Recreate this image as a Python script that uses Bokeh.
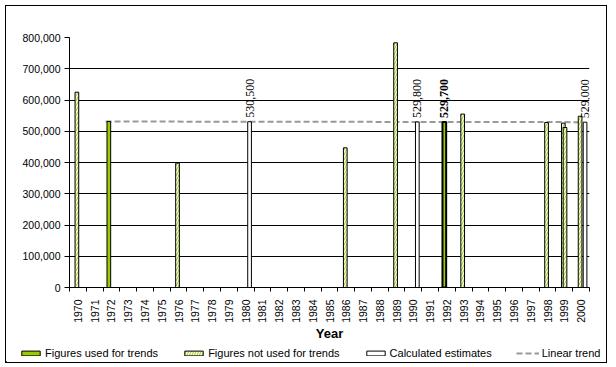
import math
import numpy as np
from bokeh.plotting import figure
from bokeh.layouts import column
from bokeh.models import (Range1d, FixedTicker, NumeralTickFormatter, Legend, LegendItem,
                          LabelSet, ColumnDataSource, Label)
from bokeh.embed import file_html
from bokeh.resources import INLINE

# ---- data ----
years = list(range(1970, 2001))
used_years = [1972, 1992]
used_values = [531100, 529700]
notused_years = [1970, 1976, 1986, 1989, 1993, 1998, 1999, 2000]
notused_values = [625000, 398000, 447000, 783000, 555000, 528000, 526000, 548000]
notused2_years = [1999]
notused2_values = [512000]
calc_years = [1980, 1990, 2000]
calc_values = [530500, 529800, 529000]
trend_span = [1971.65, 2000.0]
y_ticks = [0, 100000, 200000, 300000, 400000, 500000, 600000, 700000, 800000]
legend_labels = ["Figures used for trends", "Figures not used for trends",
                 "Calculated estimates", "Linear trend"]

FONT = "Liberation Sans"
GREEN = "#99cc00"
TREND = dict(line_color="#999999", line_width=2, line_dash="6 3")
HATCH = dict(hatch_pattern="/", hatch_color=GREEN, hatch_scale=5, hatch_weight=1)

# offsets of each series within its category (category units)
OFF_USED, OFF_NU, OFF_NU2, OFF_CALC = -0.155, -0.06, 0.04, 0.235
BW = 0.22

p = figure(width=600, height=337, output_backend="svg", toolbar_location=None,
           x_range=Range1d(1969.5, 2000.5), y_range=Range1d(0, 800000),
           min_border_left=63, min_border_right=17, min_border_top=31, min_border_bottom=54)
p.frame_align = False
p.outline_line_color = None
p.background_fill_color = "white"
p.border_fill_color = "white"

# trend line (linear fit through the figures used for trends)
a, b = np.polyfit(used_years, used_values, 1)
tx = trend_span
ty = [a * x + b for x in tx]
p.line(tx, ty, **TREND)

src_used = ColumnDataSource(dict(x=[y + OFF_USED for y in used_years], top=used_values,
                                 lw=[1, 2]))
p.vbar(x="x", top="top", width=BW, source=src_used, fill_color=GREEN,
       line_color="black", line_width="lw")
p.vbar(x=[y + OFF_NU for y in notused_years], top=notused_values, width=BW,
       fill_color="white", line_color="black", line_width=1, **HATCH)
p.vbar(x=[y + OFF_NU2 for y in notused2_years], top=notused2_values, width=BW,
       fill_color="white", line_color="black", line_width=1, **HATCH)
p.vbar(x=[y + OFF_CALC for y in calc_years], top=calc_values, width=BW,
       fill_color="white", line_color="black", line_width=1)

# value labels
calc_src = ColumnDataSource(dict(x=[y + OFF_CALC for y in calc_years], y=calc_values,
                                 t=["{:,}".format(v) for v in calc_values]))
p.add_layout(LabelSet(x="x", y="y", text="t", source=calc_src, angle=math.pi / 2,
                      text_align="left", text_baseline="middle", y_offset=4,
                      text_font=FONT, text_font_size="12px", text_color="black"))
bold_src = ColumnDataSource(dict(x=[used_years[1] + OFF_USED], y=[used_values[1]],
                                 t=["{:,}".format(used_values[1])]))
p.add_layout(LabelSet(x="x", y="y", text="t", source=bold_src, angle=math.pi / 2,
                      text_align="left", text_baseline="middle", y_offset=4,
                      text_font=FONT, text_font_size="12px", text_font_style="bold",
                      text_color="black"))

# axes
p.yaxis.ticker = FixedTicker(ticks=y_ticks)
p.yaxis.formatter = NumeralTickFormatter(format="0,0")
p.yaxis.major_tick_out = 5
p.yaxis.major_tick_in = 0
p.yaxis.minor_tick_line_color = None
p.yaxis.major_label_standoff = 4
p.yaxis.major_label_text_font = FONT
p.yaxis.major_label_text_font_size = "10.5px"
p.yaxis.major_label_text_color = "black"
p.yaxis.axis_line_color = "black"
p.yaxis.major_tick_line_color = "black"

p.xaxis.ticker = FixedTicker(ticks=years, minor_ticks=[y - 0.5 for y in years] + [2000.5])
p.xaxis.major_tick_out = 0
p.xaxis.major_tick_in = 0
p.xaxis.minor_tick_out = 4
p.xaxis.minor_tick_in = 0
p.xaxis.minor_tick_line_color = "black"
p.xaxis.major_label_orientation = math.pi / 2
p.xaxis.major_label_standoff = 8
p.xaxis.major_label_text_font = FONT
p.xaxis.major_label_text_font_size = "10.5px"
p.xaxis.major_label_text_color = "black"
p.xaxis.axis_line_color = "black"
p.xaxis.axis_label = "Year"
p.xaxis.axis_label_text_font = FONT
p.xaxis.axis_label_text_font_size = "13px"
p.xaxis.axis_label_text_font_style = "bold"
p.xaxis.axis_label_text_color = "black"
p.xaxis.axis_label_standoff = 0

p.ygrid.ticker = FixedTicker(ticks=y_ticks)
p.ygrid.grid_line_color = "black"
p.ygrid.grid_line_width = 1
p.xgrid.visible = False

p.add_layout(Label(x=1969.5, y=800000, x_offset=-6, y_offset=12, text="ha",
                   text_font=FONT, text_font_size="12px", text_font_style="bold",
                   text_color="black", text_baseline="alphabetic"))

# legend strip (legend-only proxy glyphs placed outside the visible range)
strip = figure(width=600, height=19, output_backend="svg", toolbar_location=None,
               x_range=Range1d(0, 600), y_range=Range1d(0, 19),
               x_axis_location=None, y_axis_location=None,
               min_border=0, min_border_left=0, min_border_right=0,
               min_border_top=0, min_border_bottom=0)
strip.frame_align = False
strip.outline_line_color = None
strip.xgrid.visible = False
strip.ygrid.visible = False
g_used = strip.vbar(x=[-100], top=[1], width=1, fill_color=GREEN, line_color="black")
g_nu = strip.vbar(x=[-100], top=[1], width=1, fill_color="white", line_color="black", **HATCH)
g_calc = strip.vbar(x=[-100], top=[1], width=1, fill_color="white", line_color="black")
g_trend = strip.line(x=[-100, -90], y=[1, 1], **TREND)

legend = Legend(items=[LegendItem(label=lab, renderers=[r]) for lab, r in
                       zip(legend_labels, [g_used, g_nu, g_calc, g_trend])],
                orientation="horizontal", location=(13, 3))
legend.padding = 0
legend.margin = 0
legend.spacing = 24
legend.glyph_width = 23
legend.glyph_height = 6
legend.label_standoff = 3
legend.label_height = 12
legend.label_text_font = FONT
legend.label_text_font_size = "11px"
legend.label_text_color = "black"
legend.border_line_color = None
legend.background_fill_alpha = 0
strip.add_layout(legend, "center")

layout = column(p, strip, spacing=0)
layout.styles = {"margin-left": "6px", "margin-top": "6px", "outline": "1px solid black"}

open("out.html", "w").write(file_html(layout, INLINE))
